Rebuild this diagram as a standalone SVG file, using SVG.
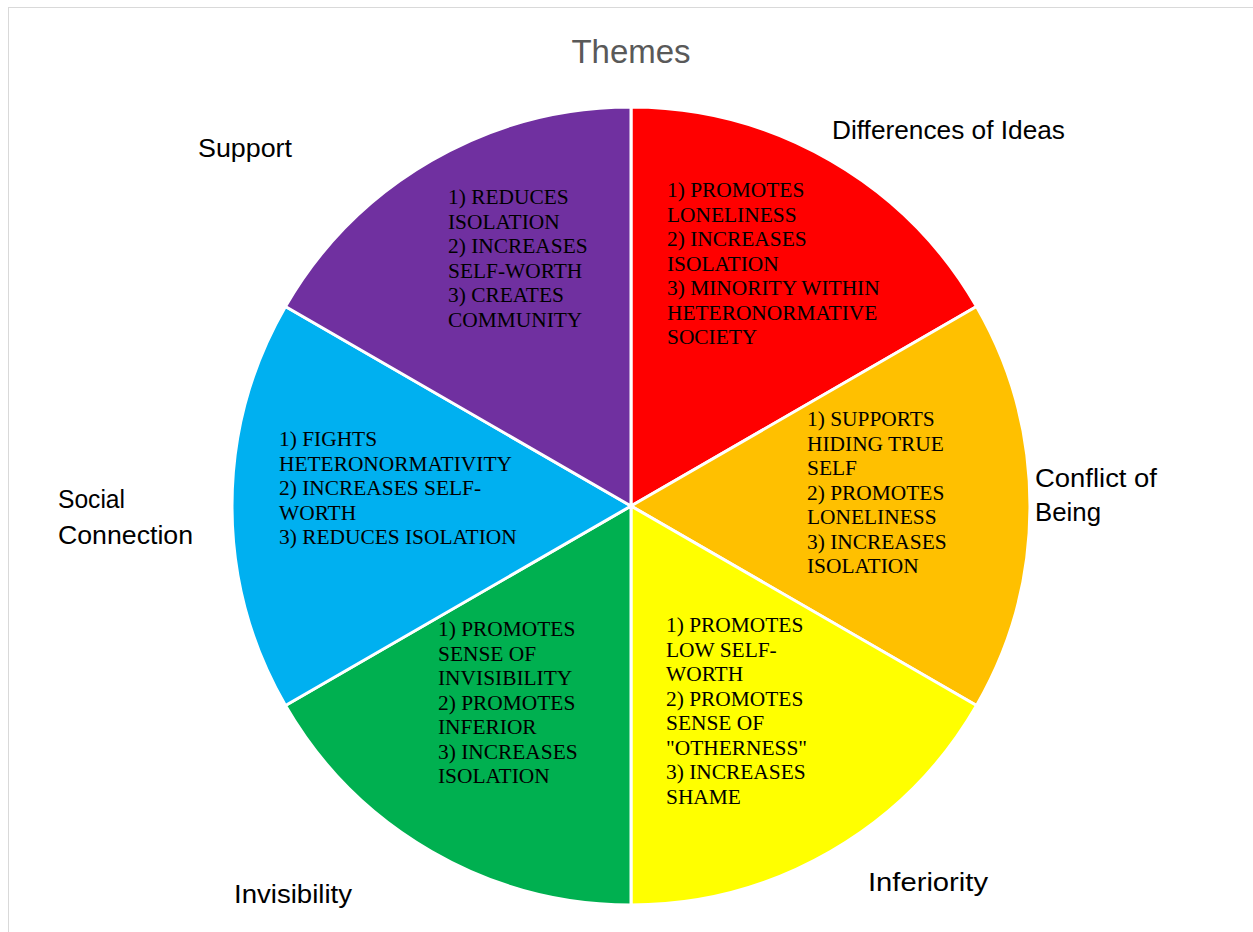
<svg xmlns="http://www.w3.org/2000/svg" width="1253" height="932" viewBox="0 0 1253 932">
<style>
.bg{fill:#ffffff}
.frame{fill:none;stroke:#d9d9d9;stroke-width:1}
.slice{stroke:#ffffff;stroke-width:3;stroke-linejoin:miter}
.title{font-family:"Liberation Sans",Arial,sans-serif;font-size:33px;fill:#595959}
.cat{font-family:"Liberation Sans",Arial,sans-serif;font-size:25px;fill:#000000}
.inner{font-family:"Liberation Serif","Times New Roman",serif;font-size:21.4px;fill:#000000}
</style>
<rect class="bg" x="0" y="0" width="1253" height="932"/>
<rect class="frame" x="8.5" y="7.5" width="1260" height="940"/>
<text class="title" x="631" y="63" text-anchor="middle">Themes</text>
<g id="connectors"></g>
<g id="slice-differences">
<path class="slice" fill="#FF0000" d="M631,506 L631,107 A399,399 0 0 1 976.54,306.5 Z"/>
<text class="inner"><tspan x="667" y="197">1) PROMOTES</tspan><tspan x="667" y="221.5">LONELINESS</tspan><tspan x="667" y="246">2) INCREASES</tspan><tspan x="667" y="270.5">ISOLATION</tspan><tspan x="667" y="295">3) MINORITY WITHIN</tspan><tspan x="667" y="319.5">HETERONORMATIVE</tspan><tspan x="667" y="344">SOCIETY</tspan></text>
<text class="cat" x="832" y="139" textLength="233" lengthAdjust="spacingAndGlyphs">Differences of Ideas</text>
</g>
<g id="slice-conflict">
<path class="slice" fill="#FFC000" d="M631,506 L976.54,306.5 A399,399 0 0 1 976.54,705.5 Z"/>
<text class="inner"><tspan x="807" y="426">1) SUPPORTS</tspan><tspan x="807" y="450.5">HIDING TRUE</tspan><tspan x="807" y="475">SELF</tspan><tspan x="807" y="499.5">2) PROMOTES</tspan><tspan x="807" y="524">LONELINESS</tspan><tspan x="807" y="548.5">3) INCREASES</tspan><tspan x="807" y="573">ISOLATION</tspan></text>
<text class="cat" x="1035" y="487" textLength="122" lengthAdjust="spacingAndGlyphs">Conflict of</text>
<text class="cat" x="1035" y="521" textLength="66" lengthAdjust="spacingAndGlyphs">Being</text>
</g>
<g id="slice-inferiority">
<path class="slice" fill="#FFFF00" d="M631,506 L976.54,705.5 A399,399 0 0 1 631,905 Z"/>
<text class="inner"><tspan x="666" y="632">1) PROMOTES</tspan><tspan x="666" y="656.5">LOW SELF-</tspan><tspan x="666" y="681">WORTH</tspan><tspan x="666" y="705.5">2) PROMOTES</tspan><tspan x="666" y="730">SENSE OF</tspan><tspan x="666" y="754.5">"OTHERNESS"</tspan><tspan x="666" y="779">3) INCREASES</tspan><tspan x="666" y="803.5">SHAME</tspan></text>
<text class="cat" x="868" y="891" textLength="120" lengthAdjust="spacingAndGlyphs">Inferiority</text>
</g>
<g id="slice-invisibility">
<path class="slice" fill="#00B050" d="M631,506 L631,905 A399,399 0 0 1 285.46,705.5 Z"/>
<text class="inner"><tspan x="438" y="636">1) PROMOTES</tspan><tspan x="438" y="660.5">SENSE OF</tspan><tspan x="438" y="685">INVISIBILITY</tspan><tspan x="438" y="709.5">2) PROMOTES</tspan><tspan x="438" y="734">INFERIOR</tspan><tspan x="438" y="758.5">3) INCREASES</tspan><tspan x="438" y="783">ISOLATION</tspan></text>
<text class="cat" x="234" y="903" textLength="118" lengthAdjust="spacingAndGlyphs">Invisibility</text>
</g>
<g id="slice-social">
<path class="slice" fill="#00B0F0" d="M631,506 L285.46,705.5 A399,399 0 0 1 285.46,306.5 Z"/>
<text class="inner"><tspan x="279" y="446">1) FIGHTS</tspan><tspan x="279" y="470.5">HETERONORMATIVITY</tspan><tspan x="279" y="495">2) INCREASES SELF-</tspan><tspan x="279" y="519.5">WORTH</tspan><tspan x="279" y="544">3) REDUCES ISOLATION</tspan></text>
<text class="cat" x="58" y="508" textLength="67" lengthAdjust="spacingAndGlyphs">Social</text>
<text class="cat" x="58" y="544" textLength="135" lengthAdjust="spacingAndGlyphs">Connection</text>
</g>
<g id="slice-support">
<path class="slice" fill="#7030A0" d="M631,506 L285.46,306.5 A399,399 0 0 1 631,107 Z"/>
<text class="inner"><tspan x="448" y="204">1) REDUCES</tspan><tspan x="448" y="228.5">ISOLATION</tspan><tspan x="448" y="253">2) INCREASES</tspan><tspan x="448" y="277.5">SELF-WORTH</tspan><tspan x="448" y="302">3) CREATES</tspan><tspan x="448" y="326.5">COMMUNITY</tspan></text>
<text class="cat" x="198" y="157" textLength="94" lengthAdjust="spacingAndGlyphs">Support</text>
</g>
</svg>
